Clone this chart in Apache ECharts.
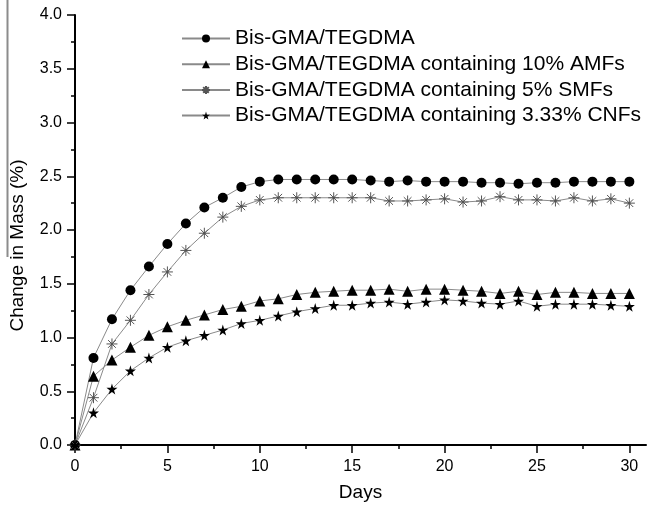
<!DOCTYPE html>
<html>
<head>
<meta charset="utf-8">
<script src="https://cdn.jsdelivr.net/npm/echarts@6/dist/echarts.min.js"></script>
<style>
  html, body { margin: 0; padding: 0; background: #fff; }
  #chart { width: 647px; height: 507px; }
</style>
</head>
<body>
<div id="chart"></div>
<script>
const days = [0, 1, 2, 3, 4, 5, 6, 7, 8, 9, 10, 11, 12, 13, 14, 15, 16, 17, 18, 19, 20, 21, 22, 23, 24, 25, 26, 27, 28, 29, 30]
const names = [
  'Bis-GMA/TEGDMA',
  'Bis-GMA/TEGDMA containing 10% AMFs',
  'Bis-GMA/TEGDMA containing 5% SMFs',
  'Bis-GMA/TEGDMA containing 3.33% CNFs'
]
const plain = [0, 0.81, 1.17, 1.44, 1.66, 1.87, 2.06, 2.21, 2.30, 2.40, 2.45, 2.47, 2.47, 2.47, 2.47, 2.47, 2.46, 2.45, 2.46, 2.45, 2.45, 2.45, 2.44, 2.44, 2.43, 2.44, 2.44, 2.45, 2.45, 2.45, 2.45]
const amf = [0, 0.64, 0.79, 0.91, 1.02, 1.10, 1.16, 1.21, 1.26, 1.29, 1.34, 1.36, 1.40, 1.42, 1.43, 1.44, 1.44, 1.45, 1.43, 1.45, 1.45, 1.44, 1.43, 1.41, 1.43, 1.40, 1.42, 1.42, 1.41, 1.41, 1.41]
const smf = [0, 0.44, 0.94, 1.16, 1.40, 1.61, 1.81, 1.97, 2.12, 2.22, 2.28, 2.30, 2.30, 2.30, 2.30, 2.30, 2.30, 2.27, 2.27, 2.28, 2.29, 2.26, 2.27, 2.31, 2.28, 2.28, 2.27, 2.30, 2.27, 2.29, 2.25]
const cnf = [0, 0.30, 0.52, 0.69, 0.81, 0.91, 0.97, 1.02, 1.07, 1.13, 1.16, 1.20, 1.24, 1.27, 1.30, 1.30, 1.32, 1.33, 1.31, 1.33, 1.35, 1.34, 1.32, 1.31, 1.34, 1.29, 1.31, 1.31, 1.31, 1.30, 1.29]
const xMajor = [0, 5, 10, 15, 20, 25, 30]
const xMinor = [2.5, 7.5, 12.5, 17.5, 22.5, 27.5]

const font = 'Liberation Sans, Arial, sans-serif'
// 8-spoke asterisk with a small dot in the middle
const asterisk = 'path://M0,5L10,5M5,0L5,10M1.5,1.5L8.5,8.5M8.5,1.5L1.5,8.5M4.4,4.4L5.6,4.4L5.6,5.6L4.4,5.6Z'
const star = 'path://M50,0L61,35L98,35L68,57L79,91L50,70L21,91L32,57L2,35L39,35Z'

const pairs = (vals) => days.map((d, i) => [d, vals[i]])

function makeSeries(name, vals, symbol, size, itemStyle) {
  return {
    name: name,
    type: 'line',
    data: pairs(vals),
    symbol: symbol,
    symbolSize: size,
    showAllSymbol: true,
    lineStyle: { color: '#8a8a8a', width: 1 },
    itemStyle: itemStyle,
    emphasis: { disabled: true },
    animation: false
  }
}

const chart = echarts.init(document.getElementById('chart'))
chart.setOption({
  backgroundColor: '#fff',
  textStyle: { fontFamily: font },
  grid: { left: 73, right: 1, top: 15, bottom: 61 },
  legend: {
    orient: 'vertical',
    left: 176,
    top: 23,
    itemWidth: 48,
    itemHeight: 10,
    itemGap: 4.7,
    textStyle: { fontSize: 21, color: '#000', fontFamily: font },
    data: names
  },
  xAxis: [
    {
      type: 'value',
      min: 0,
      max: 30.9,
      name: 'Days',
      nameLocation: 'middle',
      nameGap: 38,
      nameTextStyle: { fontSize: 19, color: '#000', fontFamily: font },
      axisLine: { lineStyle: { color: '#000', width: 2 } },
      axisTick: { customValues: xMajor, length: 8, lineStyle: { color: '#000', width: 1.5 } },
      axisLabel: { customValues: xMajor, fontSize: 16, color: '#000', margin: 14 },
      splitLine: { show: false }
    },
    {
      type: 'value',
      min: 0,
      max: 30.9,
      position: 'bottom',
      axisLine: { show: false },
      axisTick: { customValues: xMinor, length: 4, lineStyle: { color: '#000', width: 1.5 } },
      axisLabel: { show: false },
      splitLine: { show: false }
    }
  ],
  yAxis: {
    type: 'value',
    min: 0,
    max: 4,
    interval: 0.5,
    name: 'Change in Mass (%)',
    nameLocation: 'middle',
    nameRotate: 90,
    nameGap: 48,
    nameTextStyle: { fontSize: 19, color: '#000', fontFamily: font, padding: [0, 31, 0, 0] },
    axisLine: { show: true, lineStyle: { color: '#000', width: 2 } },
    axisTick: { show: true, length: 8, lineStyle: { color: '#000', width: 1.5 } },
    minorTick: { show: true, splitNumber: 2, length: 4, lineStyle: { color: '#000', width: 1.5 } },
    axisLabel: { fontSize: 16, color: '#000', margin: 13, formatter: (v) => v.toFixed(1) },
    splitLine: { show: false }
  },
  graphic: [
    {
      type: 'line',
      shape: { x1: 7.5, y1: 0, x2: 7.5, y2: 257 },
      style: { stroke: '#8c8c8c', lineWidth: 2 }
    }
  ],
  series: [
    makeSeries(names[0], plain, 'circle', 10, { color: '#000' }),
    makeSeries(names[1], amf, 'triangle', 11, { color: '#000' }),
    makeSeries(names[2], smf, asterisk, 11, { color: '#222', borderColor: '#555', borderWidth: 1 }),
    makeSeries(names[3], cnf, star, 11, { color: '#000' })
  ]
})
</script>
</body>
</html>
